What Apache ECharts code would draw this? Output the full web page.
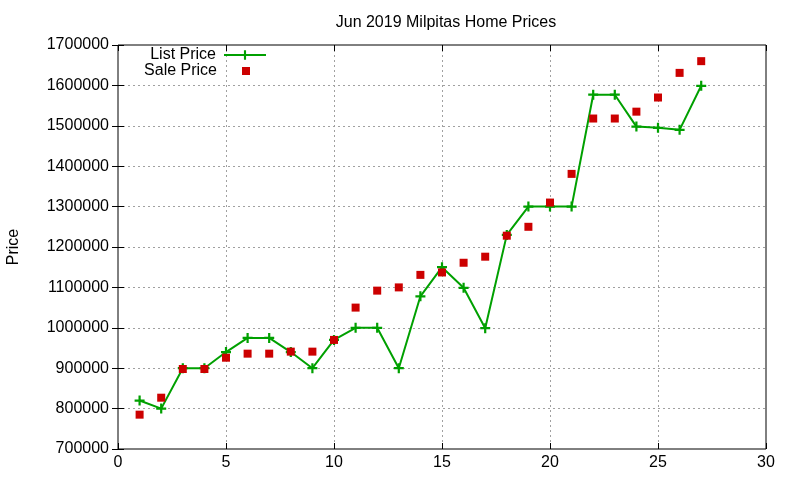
<!DOCTYPE html>
<html><head><meta charset="utf-8">
<script src="https://cdn.jsdelivr.net/npm/echarts@6/dist/echarts.min.js"></script>
<style>html,body{margin:0;padding:0;background:#fff}#c{width:800px;height:480px}</style>
</head><body><div id="c"></div>
<script>
const days = [1,2,3,4,5,6,7,8,9,10,11,12,13,14,15,16,17,18,19,20,21,22,23,24,25,26,27];
const listPrice = [820000,800000,900000,900000,940000,975000,975000,940000,900000,970000,1000000,1000000,900000,1078000,1150000,1099000,999000,1230000,1300000,1300000,1300000,1577000,1577000,1498000,1495000,1490000,1599000];
const salePrice = [785000,827000,898000,898000,926000,936000,936000,941000,941000,970000,1050000,1092000,1100000,1131000,1137000,1161000,1176000,1228000,1250000,1310000,1381000,1518000,1518000,1535000,1570000,1631000,1660000];
const xTicks = [0,5,10,15,20,25,30];
const yTicks = [700000,800000,900000,1000000,1100000,1200000,1300000,1400000,1500000,1600000,1700000];

const font = 'Liberation Sans, Arial, sans-serif';
const plus = 'path://M0,3.5H3.5V0H5.5V3.5H9V5.5H5.5V9H3.5V5.5H0Z';
const green = '#00a000', red = '#cc0000';
const grid = {left:118, right:34, top:45, bottom:31, outerBoundsMode:'none', containLabel:false,
  show:true, borderColor:'#000', borderWidth:1, backgroundColor:'transparent'};
const dashed = {show:true, showMinLine:false, showMaxLine:false, lineStyle:{color:'#a0a0a0', type:[2,3], width:1}};
const chart = echarts.init(document.getElementById('c'), null, {renderer:'canvas'});
chart.setOption({
  animation:false,
  title:{text:'Jun 2019 Milpitas Home Prices', left:441, textAlign:'center', top:10,
    textStyle:{fontFamily:font, fontSize:16, fontWeight:'normal', color:'#000'}},
  legend:[
    {data:['List Price'], right:533, top:47, itemWidth:42, itemHeight:12, align:'right', padding:0,
      textStyle:{fontFamily:font, fontSize:16, color:'#000', padding:[0,3,0,0]}},
    {data:[{name:'Sale Price', icon:'rect'}], right:550, top:63, itemWidth:8, itemHeight:8, align:'right', padding:0,
      itemStyle:{opacity:1},
      textStyle:{fontFamily:font, fontSize:16, color:'#000', padding:[0,20,0,0]}}
  ],
  grid:grid,
  xAxis:[
    {type:'value', min:0, max:30, interval:5, position:'bottom',
      axisLine:{show:false}, axisTick:{inside:true, length:6, lineStyle:{color:'#000'}},
      axisLabel:{fontFamily:font, fontSize:16, color:'#000', margin:6, formatter:v=>xTicks.includes(v)?String(v):''},
      splitLine:dashed},
    {type:'value', min:0, max:30, interval:5, position:'top',
      axisLine:{show:false}, axisTick:{inside:true, length:6, lineStyle:{color:'#000'}},
      axisLabel:{show:false}, splitLine:{show:false}}
  ],
  yAxis:[
    {type:'value', min:700000, max:1700000, interval:100000, position:'left',
      name:'Price', nameLocation:'middle', nameGap:96, nameRotate:90,
      nameTextStyle:{fontFamily:font, fontSize:16, color:'#000'},
      axisLine:{show:false}, axisTick:{inside:true, length:6, lineStyle:{color:'#000'}},
      axisLabel:{fontFamily:font, fontSize:16, color:'#000', margin:9, formatter:v=>yTicks.includes(v)?String(v):''},
      splitLine:dashed},
    {type:'value', min:700000, max:1700000, interval:100000, position:'right',
      axisLine:{show:false}, axisTick:{inside:true, length:6, lineStyle:{color:'#000'}},
      axisLabel:{show:false}, splitLine:{show:false}}
  ],
  series:[
    {name:'List Price', type:'line', data:days.map((d,i)=>[d,listPrice[i]]),
      symbol:plus, symbolSize:10, showAllSymbol:true,
      lineStyle:{color:green, width:2}, itemStyle:{color:green}, z:2},
    {name:'Sale Price', type:'scatter', data:days.map((d,i)=>[d,salePrice[i]]),
      symbol:'rect', symbolSize:8, itemStyle:{color:red, opacity:1}, z:3}
  ]
});
</script></body></html>
